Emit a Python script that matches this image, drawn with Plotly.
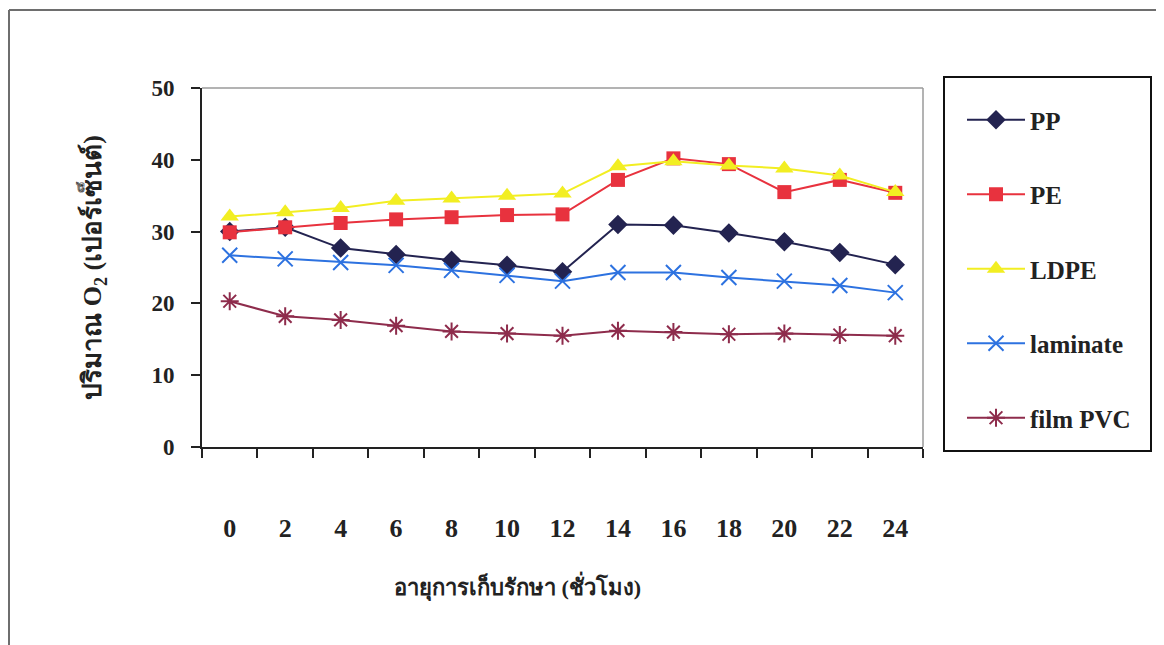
import plotly.graph_objects as go

hours = ["0", "2", "4", "6", "8", "10", "12", "14", "16", "18", "20", "22", "24"]
pp = [30.0, 30.6, 27.7, 26.8, 26.0, 25.3, 24.4, 31.0, 30.9, 29.8, 28.6, 27.1, 25.4]
pe = [29.9, 30.6, 31.2, 31.7, 32.0, 32.3, 32.4, 37.2, 40.2, 39.4, 35.5, 37.2, 35.4]
ldpe = [32.1, 32.7, 33.3, 34.3, 34.6, 35.0, 35.3, 39.1, 39.8, 39.2, 38.8, 37.8, 35.5]
laminate = [26.7, 26.2, 25.7, 25.3, 24.6, 23.9, 23.1, 24.3, 24.3, 23.6, 23.1, 22.5, 21.5]
film_pvc = [20.3, 18.2, 17.7, 16.9, 16.1, 15.8, 15.5, 16.2, 16.0, 15.7, 15.8, 15.6, 15.5]

series_names = ["PP", "PE", "LDPE", "laminate", "film PVC"]
series_values = [pp, pe, ldpe, laminate, film_pvc]
colors = ["#232350", "#e8323e", "#f2ee22", "#2d72e0", "#8e2c4c"]
symbols = ["diamond", "square", "triangle-up", "x-thin-open", "asterisk-open"]
sizes = [15, 14, 16, 15, 15]

SERIF = "Liberation Serif, Times New Roman, serif"
INK = "#222222"

fig = go.Figure()
for i, (name, vals) in enumerate(zip(series_names, series_values)):
    open_sym = symbols[i].endswith("open")
    fig.add_trace(go.Scatter(
        x=hours, y=vals, name=name, mode="lines+markers",
        line=dict(color=colors[i], width=2),
        marker=dict(symbol=symbols[i], size=sizes[i], color=colors[i],
                    line=dict(color=colors[i], width=2 if open_sym else 0)),
        legendgroup=name,
    ))

W, H = 1164, 645
OFF = 8  # page offset of the figure inside the browser window
# desired page positions of the plot area
PL, PR, PT, PB = 202, 923, 88, 447
L, T = PL - OFF, PT - OFF
R = W - (PR - OFF)
B = H - (PB - OFF)
pw, ph = W - L - R, H - T - B

def px(x):
    return (x - OFF - L) / pw

def py(y):
    return (H - B - (y - OFF)) / ph

shapes = [
    # plot area border (top and right)
    dict(type="line", xref="paper", yref="paper", x0=0, x1=1, y0=1, y1=1,
         line=dict(color="#9a9a9a", width=1.5)),
    dict(type="line", xref="paper", yref="paper", x0=1, x1=1, y0=0, y1=1,
         line=dict(color="#9a9a9a", width=1.5)),
    # outer chart frame
    dict(type="line", xref="paper", yref="paper", x0=px(9), x1=px(1175), y0=py(10), y1=py(10),
         line=dict(color="#6e6e6e", width=2)),
    dict(type="line", xref="paper", yref="paper", x0=px(9), x1=px(9), y0=py(10), y1=py(660),
         line=dict(color="#6e6e6e", width=2)),
    # legend box
    dict(type="rect", xref="paper", yref="paper", x0=px(944), x1=px(1151), y0=py(77), y1=py(451),
         line=dict(color="#111111", width=2), fillcolor="rgba(0,0,0,0)"),
]

fig.update_layout(
    width=W, height=H,
    margin=dict(l=L, r=R, t=T, b=B),
    paper_bgcolor="white", plot_bgcolor="white",
    font=dict(family=SERIF, color=INK),
    showlegend=True,
    legend=dict(
        x=px(962), y=py(97), xanchor="left", yanchor="top",
        borderwidth=0, bgcolor="rgba(0,0,0,0)",
        font=dict(family=SERIF, size=25, color=INK, weight="bold"),
        tracegroupgap=39, maxheight=600, itemwidth=58,
    ),
    shapes=shapes,
    annotations=[dict(
        text="อายุการเก็บรักษา (ชั่วโมง)", xref="paper", yref="paper",
        x=px(517), y=py(586), xanchor="center", yanchor="middle", showarrow=False,
        font=dict(family=SERIF, size=22, color=INK, weight="bold"),
    )],
)

fig.update_xaxes(
    type="category", range=[-0.5, 12.5], tickson="boundaries", ticks="outside",
    ticklen=9, tickwidth=1.5,
    tickcolor=INK, showline=True, linecolor=INK, linewidth=2,
    showgrid=False, zeroline=False,
    tickfont=dict(family=SERIF, size=26, color=INK, weight="bold"),
    ticklabelstandoff=57,
)
fig.update_yaxes(
    range=[0, 50], dtick=10, ticks="outside", ticklen=9, tickwidth=1.5,
    tickcolor=INK, showline=True, linecolor=INK, linewidth=2,
    showgrid=False, zeroline=False,
    tickfont=dict(family=SERIF, size=23, color=INK, weight="bold"),
    ticklabelstandoff=12,
    title=dict(text="ปริมาณ O<sub>2</sub> (เปอร์เซ็นต์)", standoff=42,
               font=dict(family=SERIF, size=26, color=INK, weight="bold")),
)

fig.write_html("out.html")
